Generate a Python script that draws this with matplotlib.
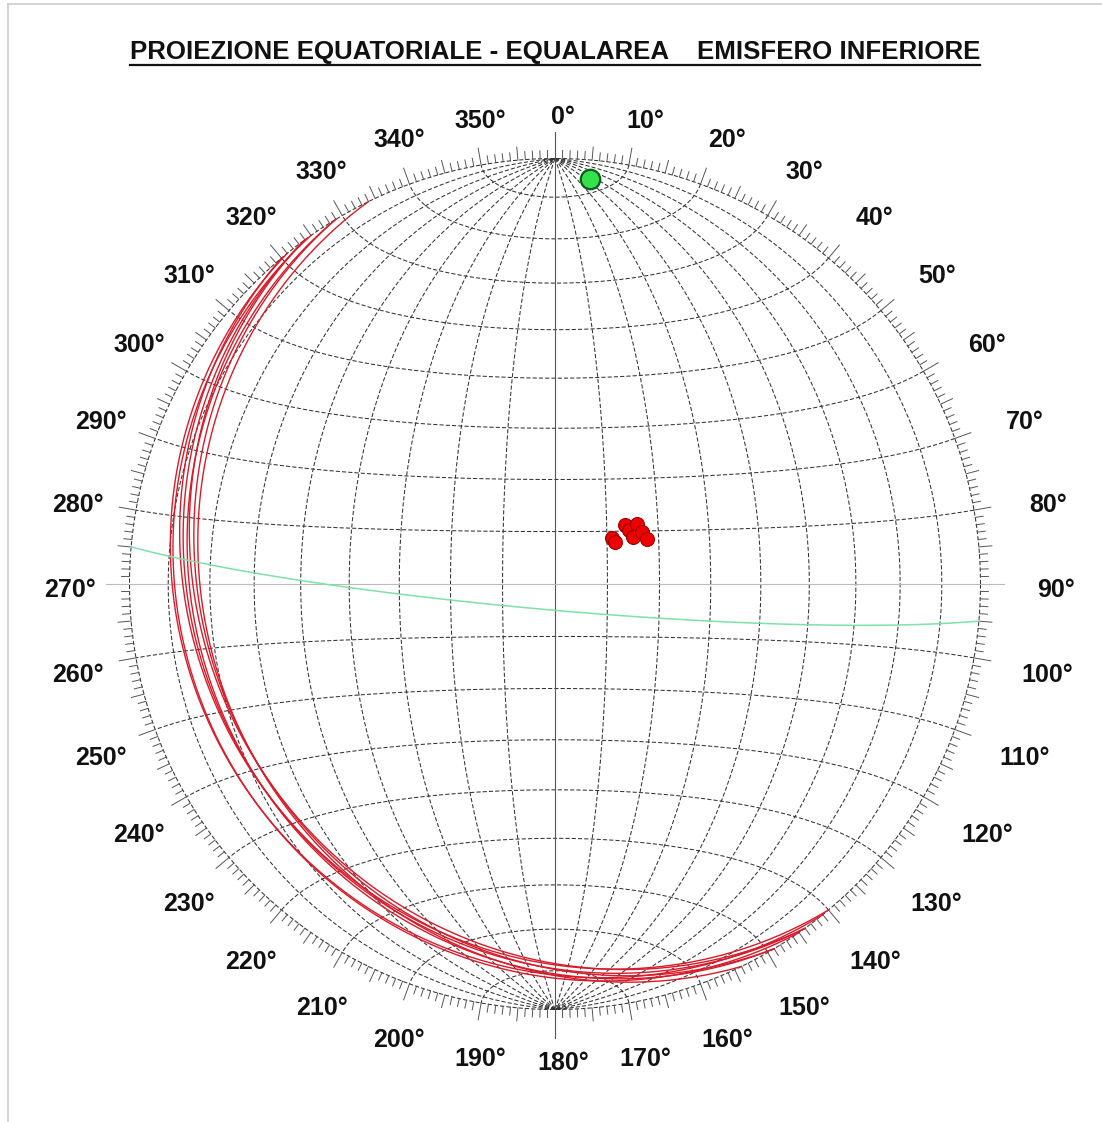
import numpy as np
import matplotlib
matplotlib.use("Agg")
from matplotlib import pyplot as plt
from matplotlib.lines import Line2D

plt.rcParams["font.family"] = ["Liberation Sans", "DejaVu Sans"]

# planes (dip direction, dip)
plane_dipdir = [231, 235, 230, 234, 239, 234, 239, 244]
plane_dip = [14, 14, 17.5, 17.5, 17.5, 19.5, 19.5, 19.5]

# single subvertical plane (green)
green_dipdir = [185]
green_dip = [85]

title = "PROIEZIONE EQUATORIALE - EQUALAREA    EMISFERO INFERIORE"
label_angles = list(range(0, 360, 10))

W, H = 1102, 1122
CX, CY, R = 555, 584, 425.5


def project(x, y, z):
    # lower hemisphere Lambert equal area, primitive at radius 1
    k = 1.0 / np.sqrt(1.0 - z)
    return x * k, y * k


def great_circle(dipdir, dip, n=361):
    d, b = np.radians(dipdir), np.radians(dip)
    a = np.linspace(0, np.pi, n)
    s = np.array([np.sin(d - np.pi / 2), np.cos(d - np.pi / 2), 0.0])
    v = np.array([np.sin(d) * np.cos(b), np.cos(d) * np.cos(b), -np.sin(b)])
    pts = np.outer(np.cos(a), s) + np.outer(np.sin(a), v)
    return project(pts[:, 0], pts[:, 1], np.minimum(pts[:, 2], 0))


def small_circle_ns(alpha, n=361):
    al = np.radians(alpha)
    phi = np.linspace(0, np.pi, n)
    x = np.sin(al) * np.cos(phi)
    y = np.full_like(phi, np.cos(al))
    z = -np.sin(al) * np.sin(phi)
    return project(x, y, z)


def pole(dipdir, dip):
    t = np.radians(dipdir - 180)
    p = np.radians(90 - dip)
    return project(np.cos(p) * np.sin(t), np.cos(p) * np.cos(t), -np.sin(p))


fig = plt.figure(figsize=(W / 100, H / 100), dpi=100)
ax = fig.add_axes([0, 0, 1, 1])
ax.set_xlim(-CX / R, (W - CX) / R)
ax.set_ylim(-(H - CY) / R, CY / R)
ax.axis("off")

grid_kw = dict(color="#333333", lw=0.75, dashes=(4, 2))

# net: meridians and small circles every 10 degrees
for dip in range(10, 90, 10):
    for dd in (90, 270):
        ax.plot(*great_circle(dd, dip), **grid_kw)
for alpha in range(10, 180, 10):
    if alpha != 90:
        ax.plot(*small_circle_ns(alpha), **grid_kw)

# primitive
th = np.linspace(0, 2 * np.pi, 721)
ax.plot(np.cos(th), np.sin(th), **grid_kw)

# axes
ax.plot([0, 0], [-1.068, 1.062], color="#555555", lw=0.8)
ax.plot([-1.055, 1.055], [0, 0], color="#bbbbbb", lw=0.8)

# ticks
for deg in range(360):
    if deg % 90 == 0:
        continue
    if deg % 10 == 0:
        L = 17
    elif deg % 5 == 0:
        L = 13
    else:
        L = 8
    a = np.radians(deg)
    r1 = 1 + L / R
    ax.plot([np.sin(a), r1 * np.sin(a)], [np.cos(a), r1 * np.cos(a)],
            color="#555555", lw=0.7)

# labels
for deg in label_angles:
    a = np.radians(deg)
    rr = (R + 47 + 20 * abs(np.sin(a))) / R
    ax.text(rr * np.sin(a) + 8 / R, rr * np.cos(a) - 6 / R, f"{deg}°",
            ha="center", va="center", fontsize=18, fontweight="bold",
            color="#111111")

# planes
for dd, dp in zip(plane_dipdir, plane_dip):
    ax.plot(*great_circle(dd, dp), color="#d81b2a", lw=1.0)
for dd, dp in zip(green_dipdir, green_dip):
    ax.plot(*great_circle(dd, dp), color="#7fe0a8", lw=1.1)

# poles
for dd, dp in zip(plane_dipdir, plane_dip):
    px, py = pole(dd, dp)
    ax.plot(px, py, "o", ms=10, mfc="#ee0000", mec="#990000", mew=0.8)
for dd, dp in zip(green_dipdir, green_dip):
    px, py = pole(dd, dp)
    ax.plot(px, py, "o", ms=14, mfc="#33e24a", mec="#0f5a1e", mew=1.6)

# title with underline
t = fig.text(555 / W, 1 - 52 / H, title, ha="center", va="center",
             fontsize=18.6, fontweight="bold", color="#111111")
fig.canvas.draw()
bb = t.get_window_extent()
uy = 1 - 65 / H
fig.add_artist(Line2D([bb.x0 / W, bb.x1 / W], [uy, uy], color="#111111", lw=1.6))

# partial frame
fig.add_artist(Line2D([8 / W, 1], [1 - 4 / H, 1 - 4 / H], color="#cccccc", lw=1.2))
fig.add_artist(Line2D([8 / W, 8 / W], [0, 1 - 4 / H], color="#cccccc", lw=1.2))

fig.savefig("out.png", dpi=100)
